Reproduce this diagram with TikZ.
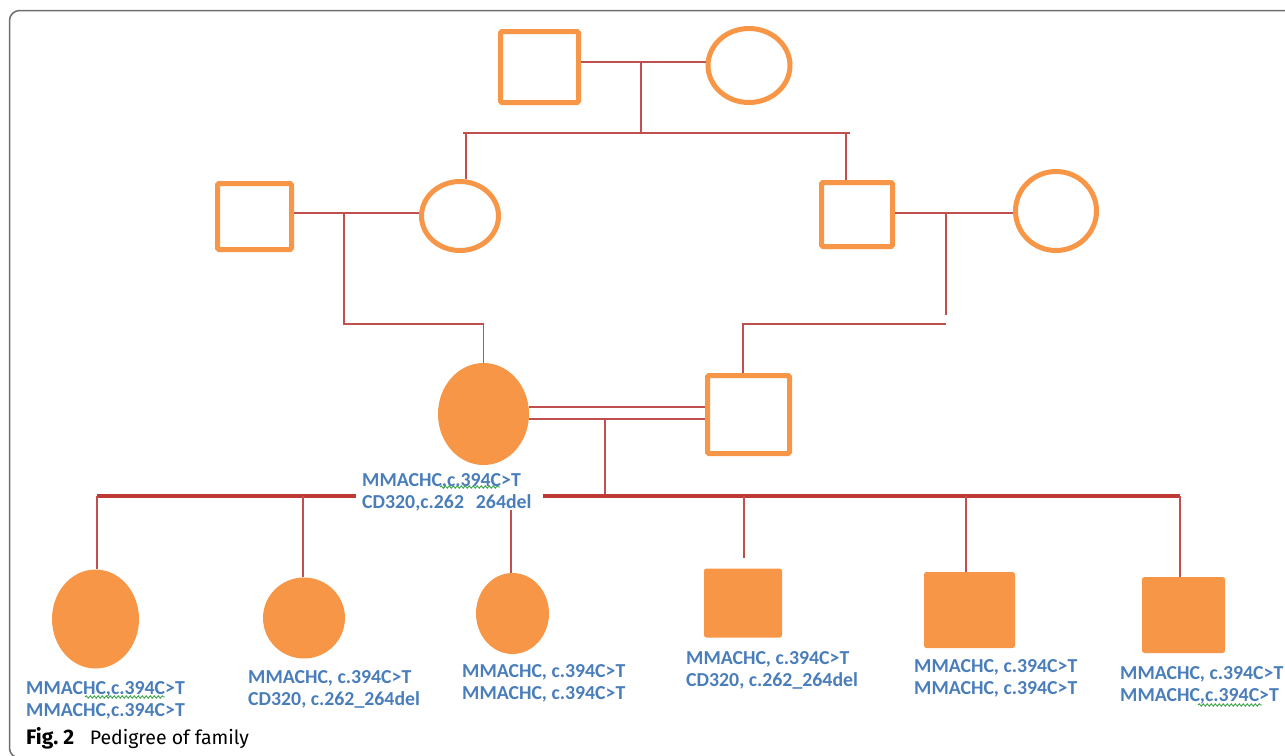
\documentclass[tikz,border=0pt]{standalone}
\usepackage{fontspec}
\usetikzlibrary{shapes.geometric,decorations.pathmorphing}
\newfontfamily\labfont{Carlito}
\newfontfamily\capfont{Fira Sans}
\definecolor{po}{HTML}{F79646}
\definecolor{lr}{HTML}{C0504D}
\definecolor{dr}{HTML}{BF3A35}
\definecolor{tb}{HTML}{4A7EBB}
\definecolor{fr}{HTML}{6E6E6E}
\definecolor{wg}{HTML}{3FA34D}
\begin{document}
\begin{tikzpicture}[x=1pt,y=-1pt,
 osq/.style={rectangle,draw=po,line width=5pt,fill=white,inner sep=0,rounded corners=1.5pt},
 oell/.style={ellipse,draw=po,line width=5pt,fill=white,inner sep=0},
 fsq/.style={rectangle,fill=po,inner sep=0,rounded corners=2.5pt},
 fell/.style={ellipse,fill=po,inner sep=0},
 rel/.style={draw=lr,line width=1.7pt},
 sib/.style={draw=dr,line width=3.2pt},
 lab/.style={anchor=north west,inner sep=0,align=left,text=tb,font={\labfont\bfseries\fontsize{19.8}{21.8}\selectfont}},
 wavy/.style={draw=wg,line width=0.9pt,decorate,decoration={snake,segment length=4pt,amplitude=1.2pt}}
]
\useasboundingbox (0,0) rectangle (1285,755);
\clip (0,0) rectangle (1285,755);
\draw[fr,line width=1.5pt,rounded corners=10pt] (9.5,10.5) rectangle (1300,758);

% generation I
\node[osq,minimum width=78,minimum height=71] (g1m) at (539.5,67) {};
\node[oell,minimum width=82,minimum height=74] (g1f) at (749,65.5) {};
% generation II
\node[osq,minimum width=74,minimum height=66] (g2m) at (254.5,216.5) {};
\node[oell,minimum width=77,minimum height=69] (g2f) at (460,216) {};
\node[osq,minimum width=71,minimum height=64] (g2b) at (857,214.5) {};
\node[oell,minimum width=81,minimum height=79] (g2w) at (1056,211) {};
% generation III
\node[fell,minimum width=91,minimum height=102] (g3f) at (483.5,414) {};
\node[osq,minimum width=82,minimum height=78] (g3m) at (748.5,414.5) {};
% generation IV
\node[fell,minimum width=87,minimum height=99] (c1) at (95.5,619) {};
\node[fell,minimum width=82,minimum height=81] (c2) at (304,618) {};
\node[fell,minimum width=73,minimum height=81] (c3) at (512.5,613.5) {};
\node[fsq,minimum width=78,minimum height=69] (c4) at (743,603) {};
\node[fsq,minimum width=91,minimum height=76] (c5) at (969.5,610) {};
\node[fsq,minimum width=83,minimum height=76] (c6) at (1183.5,615) {};

% gen I connectors
\coordinate (m1) at (641,62);
\coordinate (s1) at (641,133);
\coordinate (s1l) at (463,133);
\coordinate (s1r) at (850,133);
\coordinate (d1) at (466,133);
\coordinate (d2) at (846,133);
\draw[rel] (g1m.east |- m1) -- (g1f.west |- m1);
\draw[rel] (m1) -- (s1);
\draw[rel] (s1l) -- (s1r);
\draw[rel] (d1) -- (d1 |- g2f.north);
\draw[rel] (d2) -- (d2 |- g2b.north);

% gen II connectors
\coordinate (m2) at (344,213);
\coordinate (k1) at (344,324);
\draw[rel] (g2m.east |- m2) -- (g2f.west |- m2);
\draw[rel] (m2) -- (k1) -| (g3f.north);
\coordinate (m3) at (946,213);
\coordinate (e3) at (946,315);
\coordinate (k2) at (946,324);
\coordinate (k3) at (743,324);
\draw[rel] (g2b.east |- m3) -- (g2w.west |- m3);
\draw[rel] (m3) -- (e3);
\draw[rel] (k2) -- (k3) -- (k3 |- g3m.north);

% gen III connectors
\coordinate (u1) at (0,407);
\coordinate (u2) at (0,419);
\draw[rel] (g3f.east |- u1) -- (g3m.west |- u1);
\draw[rel] (g3f.east |- u2) -- (g3m.west |- u2);
\coordinate (m4) at (605,419);
\coordinate (s2) at (605,496);
\draw[rel] (m4) -- (s2);
\coordinate (sl) at (97,496);
\coordinate (sa) at (356,496);
\coordinate (sb) at (543,496);
\coordinate (sr) at (1180,496);
\draw[sib] (sl) -- (sa);
\draw[sib] (sb) -- (sr);
\coordinate (t2) at (303,496);
\coordinate (t3) at (511,510);
\coordinate (t4) at (744,496);
\coordinate (t4e) at (744,558);
\coordinate (t5) at (966,496);
\draw[rel] (sl) -- (sl |- c1.north);
\draw[rel] (t2) -- (t2 |- c2.north);
\draw[rel] (t3) -- (t3 |- c3.north);
\draw[rel] (t4) -- (t4e);
\draw[rel] (t5) -- (t5 |- c5.north);
\draw[rel] (sr) -- (sr |- c6.north);

% labels
\node[lab] (l0) at (362,473.5) {MMACHC,c.394C>T\\CD320,c.262\hspace{0.6em}264del};
\node[lab] (l1) at (26,681.5) {MMACHC,c.394C>T\\MMACHC,c.394C>T};
\node[lab] (l2) at (248,670.5) {MMACHC, c.394C>T\\CD320, c.262\_264del};
\node[lab] (l3) at (462,664.5) {MMACHC, c.394C>T\\MMACHC, c.394C>T};
\node[lab] (l4) at (686,651.5) {MMACHC, c.394C>T\\CD320, c.262\_264del};
\node[lab] (l5) at (914,659.5) {MMACHC, c.394C>T\\MMACHC, c.394C>T};
\node[lab] (l6) at (1120,666.5) {MMACHC, c.394C>T\\MMACHC,c.394C>T};

% spell-check underlines
\draw[wavy] (440,487) -- (500,487);
\draw[wavy] (85,697) -- (165,697);
\draw[wavy] (1198,705) -- (1262,705);

% caption
\node[anchor=base west,inner sep=0,font={\capfont\fontsize{19.5}{21}\selectfont}] (cap) at (26,744) {{\bfseries\fontsize{21}{22}\selectfont Fig.~2}\hspace{0.8em}Pedigree of family};
\end{tikzpicture}
\end{document}
